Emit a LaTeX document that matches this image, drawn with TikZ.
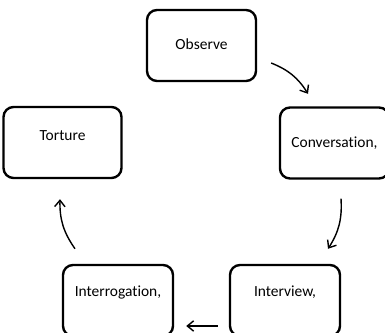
\documentclass[tikz,border=0pt]{standalone}
\usepackage{fontspec}
\setmainfont{Carlito}[Ligatures=NoCommon]
\usetikzlibrary{positioning, arrows.meta}

\begin{document}
\begin{tikzpicture}[
    stage/.style={draw, line width=1.7pt, rounded corners=0.25cm, minimum height=1.775cm,
                  font=\fontsize{11}{13}\selectfont, text height=1.6ex, text depth=0.4ex},
    flow/.style={-{Straight Barb[length=1.6mm, width=2.6mm]}, line width=1pt}
  ]
                \useasboundingbox (0,0) rectangle (9.625,8.325);
                % Nodes
                \node[stage, minimum width=2.725cm] (obs) at (5.0375,7.1875) {Observe};
                \node[stage, minimum width=2.725cm] (conv) at (8.3625,4.75) {Conversation,};
                \node[stage, minimum width=2.95cm, text depth=0.4ex+0.32cm] (tort) at (1.5625,4.7625) {Torture};
                \node[stage, minimum width=2.75cm, text depth=0.4ex+0.42cm] (interr) at (2.95,0.8125) {Interrogation,};
                \node[stage, minimum width=2.75cm, text depth=0.4ex+0.42cm] (intv) at (7.125,0.8125) {Interview,};

                % Edges
                \draw[flow] ([shift={(0.35,-0.4375)}]obs.east) to[bend left=18] ([shift={(-0.6625,0.3125)}]conv.north);
                \draw[flow] ([shift={(0.1625,-0.475)}]conv.south) to[bend left=18] ([shift={(1.075,0.375)}]intv.north);
                \draw[flow] ([shift={(-0.275,-0.6375)}]intv.west) -- ([shift={(0.3,-0.6375)}]interr.east);
                \draw[flow] ([shift={(-1.075,0.375)}]interr.north) to[bend left=18] ([shift={(-0.0625,-0.5)}]tort.south);
\end{tikzpicture}
\end{document}
